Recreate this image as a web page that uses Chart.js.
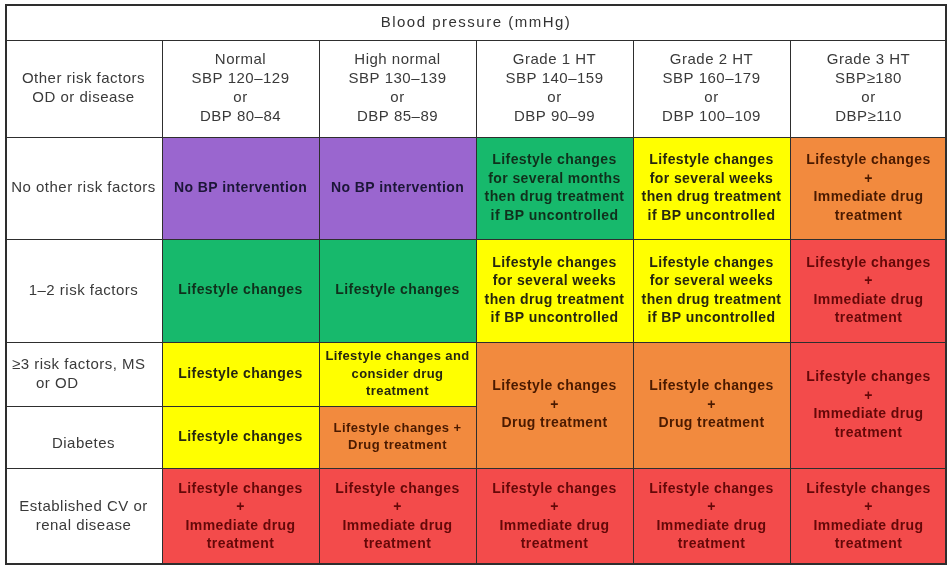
<!DOCTYPE html>
<html><head><meta charset="utf-8">
<script src="https://cdn.jsdelivr.net/npm/chart.js@4/dist/chart.umd.min.js"></script>
<style>html,body{margin:0;padding:0;background:#fff}canvas{display:block}</style>
</head><body>
<canvas id="c" width="950" height="569"></canvas>
<script>
// ---------- DATA ----------
const tableTitle = "Blood pressure (mmHg)";
const columnHeaders = [
  ["Other risk factors", "OD or disease"],
  ["Normal", "SBP 120–129", "or", "DBP 80–84"],
  ["High normal", "SBP 130–139", "or", "DBP 85–89"],
  ["Grade 1 HT", "SBP 140–159", "or", "DBP 90–99"],
  ["Grade 2 HT", "SBP 160–179", "or", "DBP 100–109"],
  ["Grade 3 HT", "SBP≥180", "or", "DBP≥110"]
];
const rowLabels = [
  ["No other risk factors"],
  ["1–2 risk factors"],
  ["≥3 risk factors, MS", "or OD"],
  ["Diabetes"],
  ["Established CV or", "renal disease"]
];
const NO_BP = ["No BP intervention"];
const LC = ["Lifestyle changes"];
const LC_MONTHS = ["Lifestyle changes", "for several months", "then drug treatment", "if BP uncontrolled"];
const LC_WEEKS = ["Lifestyle changes", "for several weeks", "then drug treatment", "if BP uncontrolled"];
const LC_IMMEDIATE = ["Lifestyle changes", "+", "Immediate drug", "treatment"];
const LC_DRUG = ["Lifestyle changes", "+", "Drug treatment"];
const LC_CONSIDER = ["Lifestyle changes and", "consider drug", "treatment"];
const LC_PLUS_DRUG = ["Lifestyle changes +", "Drug treatment"];

const row1Text = [NO_BP, NO_BP, LC_MONTHS, LC_WEEKS, LC_IMMEDIATE];
const row2Text = [LC, LC, LC_WEEKS, LC_WEEKS, LC_IMMEDIATE];
const row3Text = [LC, LC_CONSIDER, LC_DRUG, LC_DRUG, LC_IMMEDIATE];
const row4Text = [LC, LC_PLUS_DRUG, null, null, null];
const row5Text = [LC_IMMEDIATE, LC_IMMEDIATE, LC_IMMEDIATE, LC_IMMEDIATE, LC_IMMEDIATE];

// risk level: 0 no intervention, 1 lifestyle (months), 2 lifestyle (weeks), 3 drug, 4 immediate drug
const row1Level = [0, 0, 1, 2, 3];
const row2Level = [1, 1, 2, 2, 4];
const row3Level = [2, 2, 3, 3, 4];
const row4Level = [2, 3, null, null, null];
const row5Level = [4, 4, 4, 4, 4];

// rows spanned by each cell (merged cells)
const row1Span = [1, 1, 1, 1, 1];
const row2Span = [1, 1, 1, 1, 1];
const row3Span = [1, 1, 2, 2, 2];
const row4Span = [1, 1, 1, 1, 1];
const row5Span = [1, 1, 1, 1, 1];

// ---------- LAYOUT / STYLE ----------
const rowEdges = [0, 36, 133, 235, 338, 402, 464, 561];
const levelColors = ['#9a66cf', '#17b96c', '#ffff00', '#f28a3e', '#f34b4b'];
const levelTextColors = ['#1c1638', '#10301c', '#262610', '#4a1a00', '#640808'];
const smallCells = { '2,2': true, '3,2': true };
const labelStyle = { 2: { align: 'left', indents: [7, 31] }, 3: { dy: 7 } };
const FONT = '"Liberation Sans", Arial, sans-serif';
const LINE = '#2e2e2e';

const bodyRows = [
  { label: rowLabels[0], text: row1Text, level: row1Level, span: row1Span },
  { label: rowLabels[1], text: row2Text, level: row2Level, span: row2Span },
  { label: rowLabels[2], text: row3Text, level: row3Level, span: row3Span },
  { label: rowLabels[3], text: row4Text, level: row4Level, span: row4Span },
  { label: rowLabels[4], text: row5Text, level: row5Level, span: row5Span }
];

const datasets = [];
datasets.push({
  kind: 'title', rowIndex: -2,
  data: columnHeaders.map(() => [rowEdges[0], rowEdges[1]]),
  backgroundColor: '#ffffff', lines: null, levels: null
});
datasets.push({
  kind: 'head', rowIndex: -1,
  data: columnHeaders.map(() => [rowEdges[1], rowEdges[2]]),
  backgroundColor: '#ffffff', lines: columnHeaders, levels: null
});
bodyRows.forEach((r, ri) => {
  const top = rowEdges[ri + 2];
  const data = [[top, rowEdges[ri + 3]]];
  const bg = ['#ffffff'];
  const lines = [r.label];
  const levels = [null];
  r.level.forEach((lv, c) => {
    if (lv === null) { data.push(null); bg.push('#ffffff'); lines.push(null); levels.push(null); return; }
    data.push([top, rowEdges[ri + 2 + r.span[c]]]);
    bg.push(levelColors[lv]);
    lines.push(r.text[c]);
    levels.push(lv);
  });
  datasets.push({ kind: 'body', rowIndex: ri, data, backgroundColor: bg, lines, levels });
});

const maxEdge = rowEdges[rowEdges.length - 1];

const textPlugin = {
  id: 'cellText',
  afterDatasetsDraw(chart) {
    const ctx = chart.ctx;
    ctx.save();
    ctx.textBaseline = 'middle';
    chart.data.datasets.forEach((ds, d) => {
      const meta = chart.getDatasetMeta(d);
      if (ds.kind === 'title') {
        const a = meta.data[0].getProps(['x', 'y', 'base', 'width'], true);
        const b = meta.data[meta.data.length - 1].getProps(['x', 'y', 'base', 'width'], true);
        const cx = ((a.x - a.width / 2) + (b.x + b.width / 2)) / 2;
        const cy = (a.y + a.base) / 2 + 1;
        ctx.font = '15px ' + FONT;
        ctx.letterSpacing = '1.5px';
        ctx.fillStyle = '#333333';
        ctx.textAlign = 'center';
        ctx.fillText(tableTitle, cx, cy);
        return;
      }
      meta.data.forEach((el, i) => {
        const lines = ds.lines[i];
        if (!lines || ds.data[i] === null) return;
        const p = el.getProps(['x', 'y', 'base', 'width'], true);
        let cx = p.x;
        let cy = (p.y + p.base) / 2;
        let lh, align = 'center', indents = null;
        if (ds.kind === 'head' || i === 0) {
          ctx.font = '15px ' + FONT;
          ctx.letterSpacing = '0.5px';
          ctx.fillStyle = '#3a3a3a';
          lh = 19;
          if (ds.kind === 'body' && labelStyle[ds.rowIndex]) {
            const st = labelStyle[ds.rowIndex];
            if (st.dy) cy += st.dy;
            if (st.align) { align = st.align; indents = st.indents; }
          }
        } else {
          const small = smallCells[ds.rowIndex + ',' + i];
          ctx.font = 'bold ' + (small ? 13 : 14) + 'px ' + FONT;
          ctx.letterSpacing = '0.4px';
          ctx.fillStyle = levelTextColors[ds.levels[i]];
          lh = small ? 17.5 : 18.5;
        }
        ctx.textAlign = align;
        const n = lines.length;
        lines.forEach((t, k) => {
          const y = cy + (k - (n - 1) / 2) * lh;
          const x = align === 'left' ? (p.x - p.width / 2 + indents[k]) : cx;
          ctx.fillText(t, x, y);
        });
      });
    });
    ctx.restore();
  }
};

new Chart(document.getElementById('c'), {
  type: 'bar',
  data: { labels: columnHeaders.map((h) => h[0]), datasets },
  options: {
    responsive: false,
    animation: false,
    devicePixelRatio: 1,
    layout: { padding: { left: 5, right: 3, top: 4, bottom: 4 } },
    plugins: { legend: { display: false }, tooltip: { enabled: false }, title: { display: false } },
    events: [],
    datasets: {
      bar: {
        grouped: false,
        barPercentage: 1,
        categoryPercentage: 1,
        borderSkipped: false,
        inflateAmount: 0,
        borderColor: LINE,
        borderWidth: (c) => {
          const ds = c.dataset;
          const i = c.dataIndex;
          const v = ds.data[i];
          const last = ds.data.length - 1;
          const isTitle = ds.kind === 'title';
          return {
            left: i === 0 ? 2 : (isTitle ? 0 : 1),
            top: ds.kind === 'title' ? 2 : 1,
            right: i === last ? 2 : 0,
            bottom: v && v[1] === maxEdge ? 2 : 0
          };
        }
      }
    },
    scales: {
      x: { type: 'category', display: false, offset: true, grid: { display: false } },
      y: { type: 'linear', display: false, reverse: true, min: 0, max: maxEdge, grid: { display: false } }
    }
  },
  plugins: [textPlugin]
});
</script>
</body></html>
